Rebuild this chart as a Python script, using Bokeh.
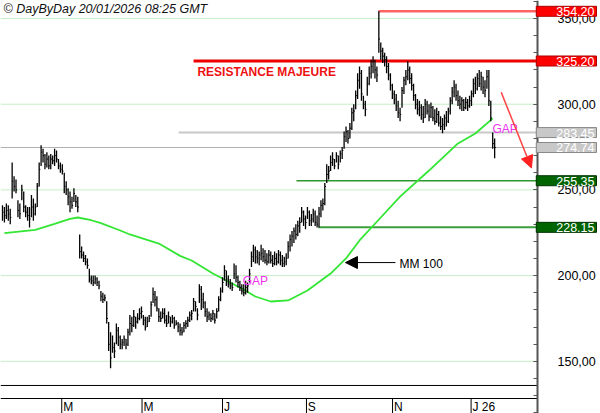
from bokeh.plotting import figure
from bokeh.models import Range1d, FixedTicker, Label, Arrow, NormalHead, ColumnDataSource, LinearAxis
from bokeh.embed import file_html
from bokeh.resources import INLINE

# ---- daily bars (trading-day index 0..255) ----
highs = [241, 240, 242, 241, 239, 266, 258, 256, 244, 242, 253, 249, 241, 240, 240, 247, 245, 242, 254, 266,
         276, 274, 271, 272, 270, 271, 270, 274, 273, 268, 266, 265, 260, 255, 251, 249, 246, 251, 247, 246,
         224, 217, 214, 212, 210, 204, 200, 200, 200, 199, 197, 191, 190, 189, 185, 173, 167, 165, 161, 172,
         170, 165, 163, 165, 163, 169, 177, 176, 180, 176, 178, 181, 182, 177, 176, 176, 177, 185, 193, 191,
         188, 181, 179, 181, 181, 177, 179, 176, 177, 176, 174, 173, 172, 170, 173, 174, 176, 179, 180, 187,
         185, 181, 195, 194, 190, 185, 181, 179, 178, 180, 178, 181, 188, 193, 199, 206, 203, 200, 198, 196,
         207, 206, 200, 197, 195, 195, 197, 196, 204, 214, 218, 217, 215, 214, 218, 216, 215, 213, 215, 214,
         212, 214, 213, 215, 214, 212, 211, 213, 220, 224, 226, 228, 230, 232, 234, 240, 238, 235, 240, 238,
         236, 239, 238, 235, 240, 244, 245, 254, 265, 264, 270, 272, 268, 272, 270, 273, 275, 284, 287, 285,
         289, 298, 300, 308, 318, 322, 320, 305, 302, 316, 322, 326, 328, 326, 322, 354.2, 336, 333, 330, 328,
         324, 318, 312, 308, 306, 302, 298, 310, 316, 320, 325, 322, 318, 312, 306, 303, 302, 300, 299, 303,
         302, 300, 301, 299, 297, 298, 296, 293, 292, 294, 296, 298, 304, 310, 314, 312, 308, 305, 304, 303,
         304, 303, 305, 308, 315, 316, 318, 320, 319, 316, 314, 320, 320, 302, 283.45, 280]
lows = [232, 231, 233, 232, 230, 245, 249, 248, 234, 233, 244, 237, 234, 232, 228, 234, 232, 235, 240, 252,
        264, 266, 262, 263, 262, 262, 265, 264, 266, 262, 260, 259, 248, 247, 241, 237, 239, 243, 240, 237,
        210, 210, 208, 206, 204, 196, 195, 194, 195, 194, 192, 185, 184, 185, 172, 156, 146, 155, 152, 160,
        159, 157, 157, 159, 157, 159, 165, 167, 170, 169, 172, 174, 175, 171, 168, 170, 173, 176, 184, 182,
        179, 173, 173, 175, 172, 170, 172, 170, 172, 169, 171, 167, 165, 165, 167, 169, 170, 173, 174, 179,
        179, 174, 184, 180, 181, 176, 173, 174, 173, 174, 172, 175, 179, 185, 190, 197, 194, 193, 192, 191,
        198, 196, 193, 191, 189, 188, 189, 190, 196, 205, 208, 207, 207, 206, 209, 208, 207, 206, 207, 207,
        205, 206, 206, 207, 206, 205, 205, 206, 210, 214, 217, 219, 221, 223, 225, 231, 229, 227, 233, 229,
        229, 231, 229, 228, 228, 234, 238, 241, 254, 256, 261, 264, 262, 266, 262, 266, 268, 274, 278, 277,
        280, 285, 290, 297, 303, 309, 302, 297, 293, 305, 311, 315, 318, 315, 313, 330, 326, 324, 322, 318,
        314, 308, 303, 300, 296, 292, 290, 298, 306, 311, 314, 312, 308, 302, 297, 294, 293, 291, 289, 292,
        294, 290, 292, 290, 288, 289, 287, 285, 283, 285, 287, 289, 294, 300, 304, 302, 299, 297, 296, 296,
        297, 296, 298, 299, 304, 306, 308, 310, 308, 306, 304, 309, 299, 290, 274, 268.5]
closes = [237, 235, 238, 236, 234, 255, 252, 250, 238, 236, 250, 240, 237, 235, 233, 240, 236, 240, 252, 262,
          272, 270, 265, 268, 264, 268, 267, 270, 268, 264, 262, 261, 252, 250, 246, 243, 241, 248, 243, 240,
          214, 212, 210, 208, 206, 198, 197, 196, 198, 196, 194, 188, 186, 187, 175, 160, 152, 158, 156, 168,
          164, 160, 161, 163, 160, 167, 172, 171, 176, 173, 175, 178, 179, 174, 170, 173, 175, 183, 189, 186,
          181, 176, 175, 178, 174, 172, 176, 173, 175, 171, 172, 170, 168, 167, 171, 172, 174, 177, 178, 185,
          182, 177, 192, 186, 184, 179, 176, 177, 175, 178, 174, 179, 186, 191, 196, 203, 198, 195, 194, 193,
          201, 199, 196, 193, 191, 190, 193, 194, 201, 211, 215, 211, 210, 212, 213, 211, 209, 208, 212, 209,
          207, 210, 208, 212, 209, 207, 208, 210, 217, 221, 223, 226, 224, 229, 231, 237, 233, 231, 237, 232,
          233, 236, 231, 230, 236, 241, 242, 252, 259, 261, 266, 268, 264, 270, 265, 271, 273, 281, 284, 280,
          286, 295, 296, 305, 314, 318, 306, 300, 297, 312, 318, 322, 325, 320, 317, 338, 331, 328, 326, 322,
          317, 311, 306, 303, 299, 295, 294, 308, 314, 316, 320, 315, 311, 305, 300, 297, 298, 294, 292, 300,
          296, 293, 298, 292, 290, 294, 289, 287, 288, 292, 290, 296, 302, 307, 310, 305, 302, 300, 302, 298,
          301, 299, 302, 306, 312, 309, 315, 312, 316, 310, 308, 316, 302, 292, 277, 274.74]
days = list(range(len(closes)))

# ---- 100-day moving average (read at points along the curve) ----
ma_days = [1, 17, 27, 35, 39, 46, 51, 61, 66, 81, 92, 98, 109, 116, 124, 131, 139, 148, 158, 170,
           178, 185, 196, 206, 221, 236, 245, 254]
ma_vals = [224.8, 226.7, 230.2, 233.1, 233.9, 232.3, 230.6, 226.3, 224.0, 218.7, 211.5, 208.8, 201.2,
           197.1, 192.5, 187.8, 184.9, 185.5, 191.3, 201.2, 210.0, 220.5, 233.9, 246.1, 261.3, 277.1,
           282.9, 291.7]

# ---- axes ----
month_ticks = [30.7, 72.3, 114.0, 157.5, 202.1, 242.8]      # month boundaries
month_label_pos = [34.1, 75.7, 116.3, 160.3, 205.1, 249.4]  # label centres, right of boundary
month_labels = ["M", "M", "J", "S", "N", "J 26"]
price_ticks = [150, 200, 250, 300, 350]
price_tick_labels = ["150,00", "200,00", "250,00", "300,00", "350,00"]
price_minor = list(range(120, 361, 10))

# ---- horizontal levels ----
levels = [354.2, 325.2, 283.45, 274.74, 255.35, 228.15]
level_labels = ["354.20", "325.20", "283.45", "274.74", "255.35", "228.15"]
level_start = [194.8, 99.0, 91.2, -1.04, 152.3, 163.7]
panel_sep = 135.9

# ---- annotations (data coordinates) ----
title_text = "\u00a9 DayByDay 20/01/2026  08:25 GMT"
title_pos = (0.5, 355.3)
resist_text = "RESISTANCE MAJEURE"
resist_pos = (101.0, 318.5)
gap_texts = ["GAP", "GAP"]
gap_pos = [(253.9, 285.8), (124.5, 196.8)]
mm_text = "MM 100"
mm_pos = (205.7, 206.5)
mm_arrow = (203.6, 207.6, 177.7, 207.6)
red_arrow = (258.4, 307.0, 274.1, 262.8)

FONT = "Liberation Sans"
x_lo, x_hi = -1.036, 309.85     # whole canvas width
x_axis_at = 277.2               # position of the price axis
y_lo, y_hi = 119.55, 360.5      # whole canvas height
y_axis_at = 128.3               # position of the date axis

p = figure(width=600, height=413, output_backend="svg", toolbar_location=None,
           x_range=Range1d(x_lo, x_hi), y_range=Range1d(y_lo, y_hi),
           x_axis_type=None, y_axis_type=None,
           min_border_left=0, min_border_right=0, min_border_top=0, min_border_bottom=0)
p.outline_line_color = None
p.background_fill_color = "white"
p.border_fill_color = "white"
p.xgrid.grid_line_color = None
p.ygrid.grid_line_color = None

# price grid lines (only left of the price axis)
p.segment(x0=[x_lo] * len(price_ticks), y0=price_ticks, x1=[x_axis_at] * len(price_ticks),
          y1=price_ticks, line_color="#c6eec6", line_width=1)

# right price axis, fixed at its place
ya = LinearAxis(fixed_location=x_axis_at)
ya.ticker = FixedTicker(ticks=price_ticks, minor_ticks=price_minor)
ya.major_label_overrides = {t: s for t, s in zip(price_ticks, price_tick_labels)}
ya.major_tick_in = 4
ya.major_tick_out = 0
ya.minor_tick_in = 4
ya.minor_tick_out = 0
ya.major_tick_line_color = "#555555"
ya.minor_tick_line_color = "#555555"
ya.axis_line_color = "#555555"
ya.axis_line_width = 2
ya.major_label_standoff = 20
ya.major_label_text_font = FONT
ya.major_label_text_font_size = "12.5px"
ya.major_label_text_color = "black"
p.add_layout(ya, "right")

# bottom date axis, fixed at its place (labels sit right of each month boundary)
xa = LinearAxis(fixed_location=y_axis_at)
xa.ticker = FixedTicker(ticks=month_label_pos)
xa.major_label_overrides = {t: s for t, s in zip(month_label_pos, month_labels)}
xa.major_tick_in = 0
xa.major_tick_out = 0
xa.minor_tick_line_color = None
xa.axis_line_color = None
xa.major_label_standoff = 1
xa.major_label_text_font = FONT
xa.major_label_text_font_size = "12px"
xa.major_label_text_color = "black"
p.add_layout(xa, "below")

# date axis line, panel separator and month boundary marks
p.segment(x0=[x_lo, x_lo], y0=[y_axis_at, panel_sep], x1=[x_axis_at, x_axis_at],
          y1=[y_axis_at, panel_sep], line_color="black", line_width=1)
p.segment(x0=month_ticks, y0=[y_lo] * len(month_ticks), x1=month_ticks,
          y1=[y_axis_at] * len(month_ticks), line_color="black", line_width=1)

# level lines
level_colors = ["#ff6464", "#ee0000", "#c8c8c8", "#b0b0b0", "#2e962e", "#3c9e3c"]
level_widths = [2.5, 3, 2, 1.2, 1.5, 2]
for lv, xs, c, w in zip(levels, level_start, level_colors, level_widths):
    p.segment(x0=[xs], y0=[lv], x1=[x_axis_at], y1=[lv], line_color=c, line_width=w)

# moving average
p.line(ma_days, ma_vals, line_color="#33e633", line_width=1.8)

# HLC bars
src = ColumnDataSource(dict(d=days, h=highs, l=lows, c=closes,
                            dr=[d + 0.6 for d in days]))
p.segment(x0="d", y0="l", x1="d", y1="h", source=src, line_color="black", line_width=1.3)
p.segment(x0="d", y0="c", x1="dr", y1="c", source=src, line_color="black", line_width=1)

# texts
p.add_layout(Label(x=title_pos[0], y=title_pos[1], text=title_text, text_font=FONT,
                   text_font_size="12.5px", text_font_style="italic", text_color="#111111",
                   text_baseline="middle"))
p.add_layout(Label(x=resist_pos[0], y=resist_pos[1], text=resist_text, text_font=FONT,
                   text_font_size="12px", text_font_style="bold", text_color="#ee1111",
                   text_baseline="middle"))
for t, (gx, gy) in zip(gap_texts, gap_pos):
    p.add_layout(Label(x=gx, y=gy, text=t, text_font=FONT, text_font_size="12px",
                       text_color="#ee33ee", text_baseline="middle"))
p.add_layout(Label(x=mm_pos[0], y=mm_pos[1], text=mm_text, text_font=FONT,
                   text_font_size="12px", text_color="black", text_baseline="middle"))

# arrows
p.add_layout(Arrow(x_start=mm_arrow[0], y_start=mm_arrow[1], x_end=mm_arrow[2], y_end=mm_arrow[3],
                   line_color="black", line_width=1,
                   end=NormalHead(size=12, fill_color="black", line_color="black")))
p.add_layout(Arrow(x_start=red_arrow[0], y_start=red_arrow[1], x_end=red_arrow[2], y_end=red_arrow[3],
                   line_color="#ff4040", line_width=1.5,
                   end=NormalHead(size=12, fill_color="#ff2020", line_color="#ff2020")))

# price boxes on the right of the axis
box_fill = ["#ff0000", "#ff0000", "#c8c8c8", "#c8c8c8", "#006400", "#006400"]
box_line = ["#aa0000", "#aa0000", "#888888", "#888888", "#003300", "#003300"]
for lv, s, f, b in zip(levels, level_labels, box_fill, box_line):
    p.add_layout(Label(x=596, x_units="screen", y=lv, text=s, text_align="right",
                       text_baseline="middle", text_font=FONT, text_font_size="12.5px",
                       text_color="white", background_fill_color=f, border_line_color=b,
                       padding=dict(left=20, right=2, top=1, bottom=0)))

open("out.html", "w").write(file_html(p, INLINE))
